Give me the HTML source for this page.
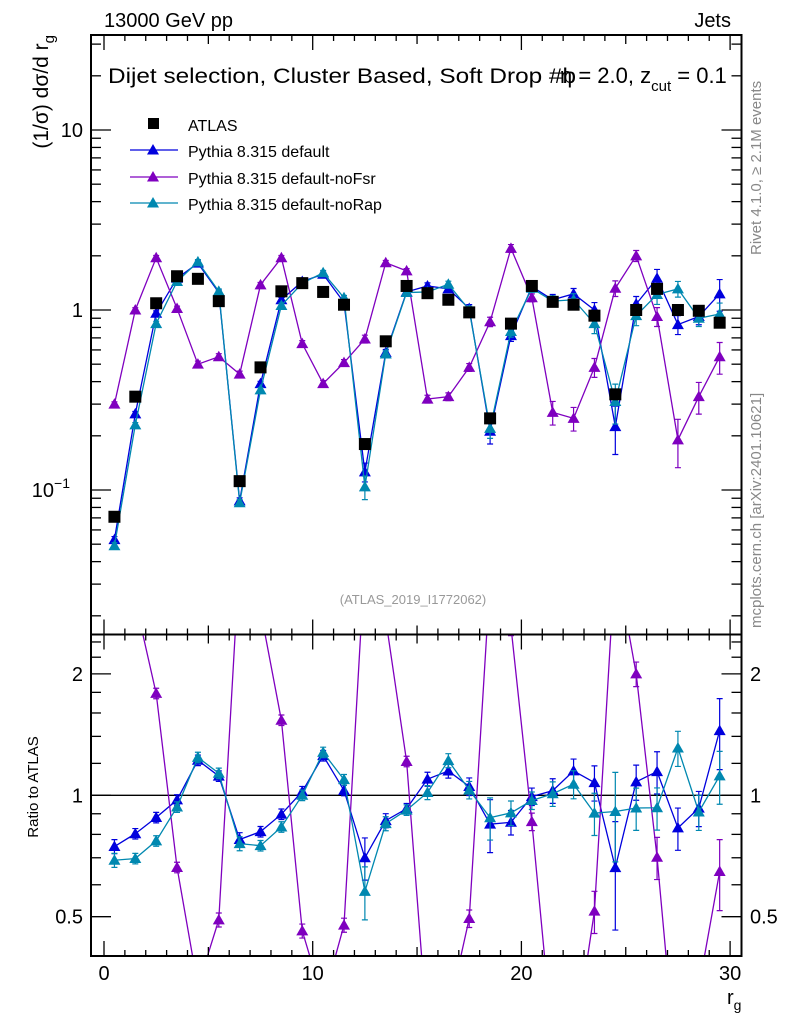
<!DOCTYPE html>
<html><head><meta charset="utf-8"><style>
html,body{margin:0;padding:0;background:#fff;overflow:hidden;width:786px;height:1024px;}
svg{display:block;}
svg text{font-family:"Liberation Sans",sans-serif;}
</style></head><body>
<svg id="c" width="786" height="1024" viewBox="0 0 786 1024" xmlns="http://www.w3.org/2000/svg">
<rect width="786" height="1024" fill="#fff"/>
<text x="104" y="27" font-size="20">13000 GeV pp</text>
<text x="731" y="27" font-size="20" text-anchor="end">Jets</text>
<text x="108" y="83" font-size="21" textLength="468" lengthAdjust="spacingAndGlyphs">Dijet selection, Cluster Based, Soft Drop #b</text>
<text x="560" y="83" font-size="22">η = 2.0, z<tspan font-size="15" dy="8">cut</tspan><tspan dy="-8"> = 0.1</tspan></text>
<text x="413" y="604" font-size="13" fill="#999" text-anchor="middle">(ATLAS_2019_I1772062)</text>
<text transform="translate(761,255) rotate(-90)" font-size="15" fill="#888">Rivet 4.1.0, ≥ 2.1M events</text>
<text transform="translate(761,628) rotate(-90)" font-size="15" fill="#888">mcplots.cern.ch [arXiv:2401.10621]</text>
<text transform="translate(48,35) rotate(-90)" font-size="21" text-anchor="end">(1/σ) dσ/d r<tspan font-size="15" dy="6">g</tspan></text>
<text transform="translate(38,787) rotate(-90)" font-size="15" text-anchor="middle">Ratio to ATLAS</text>
<text x="727" y="1004" font-size="20">r<tspan font-size="14" dy="6">g</tspan></text>
<g id="g"></g>
</svg>
<script>
const bins=[0.5,1.5,2.5,3.5,4.5,5.5,6.5,7.5,8.5,9.5,10.5,11.5,12.5,13.5,14.5,15.5,16.5,17.5,18.5,19.5,20.5,21.5,22.5,23.5,24.5,25.5,26.5,27.5,28.5,29.5];
const atlas=[0.071,0.33,1.09,1.54,1.49,1.12,0.112,0.48,1.27,1.41,1.26,1.07,0.18,0.67,1.36,1.24,1.14,0.97,0.25,0.84,1.36,1.11,1.07,0.93,0.34,1.0,1.31,1.0,0.99,0.85];
const pyDefault=[0.053,0.265,0.96,1.5,1.82,1.25,0.087,0.39,1.14,1.44,1.58,1.1,0.126,0.58,1.26,1.36,1.31,1.02,0.212,0.72,1.35,1.14,1.23,1.0,0.225,1.08,1.5,0.83,0.92,1.23];
const pyNoFsr=[0.30,1.0,1.95,1.02,0.50,0.55,0.44,1.38,1.95,0.65,0.39,0.51,0.69,1.83,1.65,0.32,0.33,0.48,0.86,2.2,1.17,0.27,0.25,0.48,1.32,2.0,0.92,0.19,0.33,0.55];
const pyNoRap=[0.049,0.23,0.84,1.44,1.85,1.27,0.085,0.36,1.06,1.41,1.61,1.17,0.104,0.57,1.25,1.26,1.39,1.0,0.22,0.76,1.32,1.12,1.14,0.84,0.31,0.93,1.22,1.31,0.9,0.95];
const errDefault=[0.04,0.03,0.03,0.03,0.03,0.03,0.04,0.03,0.03,0.03,0.03,0.03,0.12,0.04,0.03,0.04,0.04,0.05,0.15,0.07,0.05,0.07,0.07,0.1,0.3,0.1,0.12,0.12,0.1,0.2];
const errNoFsr=[0.03,0.03,0.03,0.03,0.04,0.04,0.04,0.03,0.03,0.04,0.04,0.04,0.05,0.03,0.03,0.05,0.05,0.05,0.06,0.05,0.05,0.15,0.15,0.12,0.1,0.07,0.12,0.3,0.2,0.2];
const errNoRap=[0.04,0.03,0.03,0.03,0.03,0.03,0.04,0.03,0.03,0.03,0.03,0.03,0.15,0.04,0.03,0.04,0.04,0.05,0.12,0.07,0.05,0.07,0.08,0.12,0.25,0.12,0.12,0.1,0.1,0.15];
const ratioTicks=[0.5,1,2];
const xTicks=[0,10,20,30];

const NS="http://www.w3.org/2000/svg",G=document.getElementById('g');
function el(t,a,p){const e=document.createElementNS(NS,t);for(const k in a)e.setAttribute(k,a[k]);(p||G).appendChild(e);return e;}
const L=91,R=741.5,T=35,M=634.5,B=956;
const X=v=>104+v*20.87;
const Y=v=>310-180*Math.log10(v);
const YR=v=>795.3-121.4*Math.log2(v);
const series=[
 {n:'pythia-default',d:pyDefault,e:errDefault,c:'#0000dd'},
 {n:'pythia-nofsr',d:pyNoFsr,e:errNoFsr,c:'#7f00bf'},
 {n:'pythia-norap',d:pyNoRap,e:errNoRap,c:'#0088b0'}];
const defs=el('defs',{});
const c1=el('clipPath',{id:'ct'},defs);el('rect',{x:L,y:T,width:R-L,height:M-T},c1);
const c2=el('clipPath',{id:'cr'},defs);el('rect',{x:L,y:M,width:R-L,height:B-M},c2);
function tri(x,y,c,g){return el('path',{d:`M${x} ${y-6}L${x+6} ${y+4.5}L${x-6} ${y+4.5}Z`,fill:c},g);}
function drawSeries(g,s,yf,rat){
  const pts=s.d.map((v,i)=>[X(bins[i]),yf(rat?v/atlas[i]:v)]);
  const ln=el('polyline',{points:pts.map(p=>p.join(',')).join(' '),fill:'none',stroke:s.c,'stroke-width':1.3},g);
  
  
  s.d.forEach((v,i)=>{
    const val=rat?v/atlas[i]:v;
    const x=X(bins[i]),y1=yf(val*(1+s.e[i])),y2=yf(Math.max(val*(1-s.e[i]),1e-4));
    const eb=el('path',{d:`M${x} ${y1}V${y2}M${x-3} ${y1}H${x+3}M${x-3} ${y2}H${x+3}`,stroke:s.c,'stroke-width':1.2},g);
    
    
    const m=tri(x,yf(val),s.c,g);
    
    
  });
}
const gt=el('g',{'clip-path':'url(#ct)'});
series.forEach(s=>drawSeries(gt,s,Y,false));
atlas.forEach((v,i)=>{const r=el('rect',{x:X(bins[i])-6,y:Y(v)-6,width:12,height:12,fill:'#000'},gt);
 
 });
const gr=el('g',{'clip-path':'url(#cr)'});
el('line',{x1:L,x2:R,y1:YR(1),y2:YR(1),stroke:'#000','stroke-width':1.3},gr);
series.forEach(s=>drawSeries(gr,s,YR,true));
el('rect',{x:L,y:T,width:R-L,height:M-T,fill:'none',stroke:'#000','stroke-width':2});
el('rect',{x:L,y:M,width:R-L,height:B-M,fill:'none',stroke:'#000','stroke-width':2});
for(let v=0;v<=30;v++){const x=X(v),big=v%10==0,len=big?15:(v%5==0?9:6);
  [[T,1],[M,-1],[M,1],[B,-1]].forEach(([y,d])=>el('line',{x1:x,x2:x,y1:y,y2:y+d*len,stroke:'#000','stroke-width':1.3}));}
xTicks.forEach(v=>{const t=el('text',{x:X(v),y:980,'font-size':20,'text-anchor':'middle'});t.textContent=v;
 });
for(let e=-2;e<=1;e++)for(let k=1;k<10;k++){const v=k*Math.pow(10,e),y=Y(v);if(y<T||y>M)continue;
  const len=k==1?20:10;el('line',{x1:L,x2:L+len,y1:y,y2:y,stroke:'#000','stroke-width':1.3});el('line',{x1:R,x2:R-len,y1:y,y2:y,stroke:'#000','stroke-width':1.3});}
[[0.1,'10','−1'],[1,'1',''],[10,'10','']].forEach(([v,a,b])=>{const t=el('text',{x:b?70:83,y:Y(v)+7,'font-size':20,'text-anchor':'end'});t.textContent=a;
 if(b){const s=el('tspan',{'font-size':14,dy:-9},t);s.textContent=b;}
 });
for(const v of [0.5,0.6,0.7,0.8,0.9,1,1.2,1.4,1.6,1.8,2,2.2,2.4]){const y=YR(v);const len=ratioTicks.includes(v)?20:10;
  el('line',{x1:L,x2:L+len,y1:y,y2:y,stroke:'#000','stroke-width':1.3});el('line',{x1:R,x2:R-len,y1:y,y2:y,stroke:'#000','stroke-width':1.3});}
ratioTicks.forEach(v=>{[[83,'end'],[750,'start']].forEach(([x,a])=>{const t=el('text',{x:x,y:YR(v)+7,'font-size':20,'text-anchor':a});t.textContent=v;
 });});
const lg=el('g',{});
el('rect',{x:148,y:118,width:11,height:11,fill:'#000'},lg);
const lt=[['ATLAS',124],['Pythia 8.315 default',150],['Pythia 8.315 default-noFsr',177],['Pythia 8.315 default-noRap',203]];
lt.forEach(([s,y],i)=>{const t=el('text',{x:188,y:y+7,'font-size':16},lg);t.textContent=s;
 
 if(i>0){const c=series[i-1].c;el('line',{x1:130,x2:178,y1:y,y2:y,stroke:c,'stroke-width':1.3},lg);tri(153,y,c,lg);}});
</script>
</body></html>
